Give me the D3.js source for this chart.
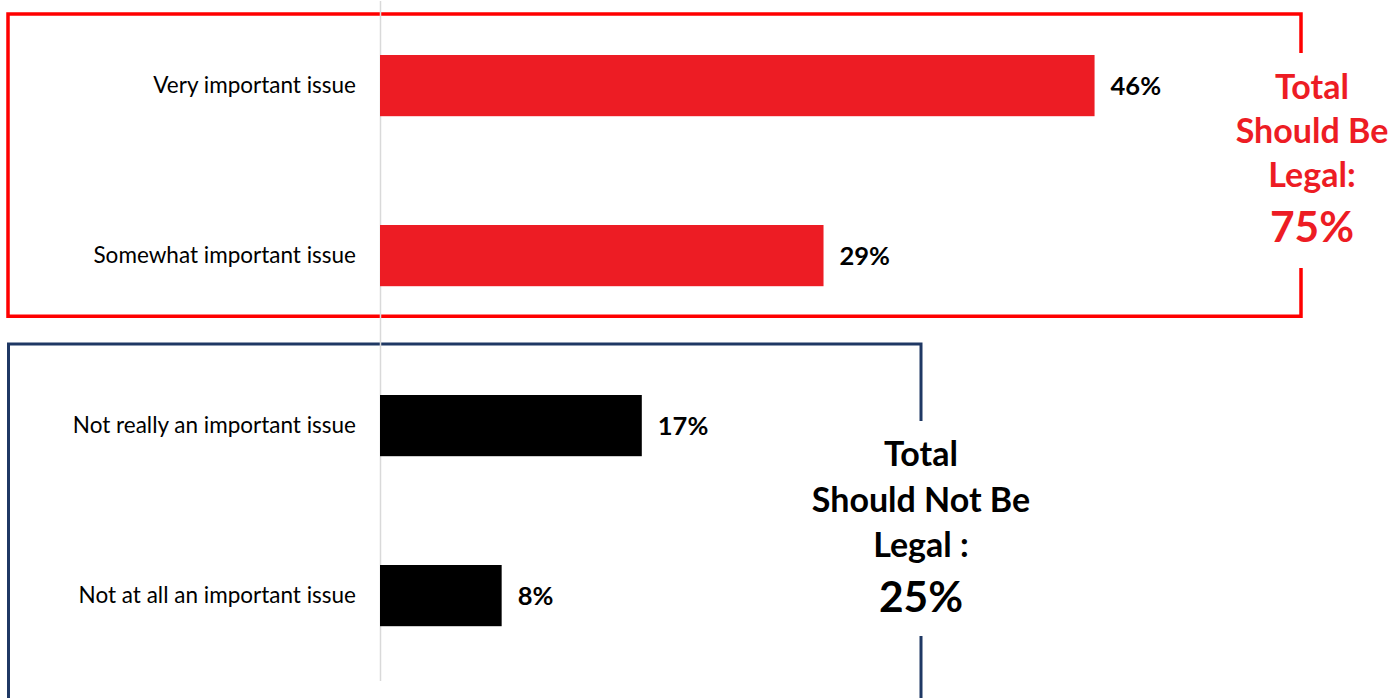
<!DOCTYPE html>
<html>
<head>
<meta charset="utf-8">
<script src="https://cdn.jsdelivr.net/npm/d3@7/dist/d3.min.js"></script>
<style>
  html, body { margin: 0; padding: 0; background: #fff; }
  svg { display: block; font-family: Lato, "Open Sans", sans-serif; }
</style>
</head>
<body>
<svg id="chart" width="1397" height="698"></svg>
<script>
// ---- data ----
const categories = [
  "Very important issue",
  "Somewhat important issue",
  "Not really an important issue",
  "Not at all an important issue"
];
const values = [46.4, 28.8, 17.0, 7.9];          // % (bar lengths)
const valueLabels = ["46%", "29%", "17%", "8%"];
const groups = ["legal", "legal", "notLegal", "notLegal"];
const groupTitles = {
  legal: ["Total", "Should Be", "Legal:"],
  notLegal: ["Total", "Should Not Be", "Legal :"]
};
const groupTotals = { legal: "75%", notLegal: "25%" };

// ---- styles ----
const barColor = { legal: "#ED1C24", notLegal: "#000000" };
const boxColor = { legal: "#FF0000", notLegal: "#1F3864" };
const titleColor = { legal: "#ED1C24", notLegal: "#000000" };

const svg = d3.select("#chart");
const W = 1397, H = 698;

const x = d3.scaleLinear().domain([0, 50]).range([380, 380 + 770]);
const y = d3.scaleBand().domain(categories).range([0.6, 680.6])
  .paddingInner(0.64).paddingOuter(0.32);

// ---- boxes (drawn first) ----
const boxes = [
  { g: "legal", left: 8, top: y(categories[0]) - 41, bottom: y(categories[1]) + y.bandwidth() + 30,
    right: 1301, gapTop: 53, gapBottom: 268, cx: 1312, sw: 3.5 },
  { g: "notLegal", left: 8.5, top: y(categories[2]) - 51, bottom: H + 10,
    right: 921, gapTop: 421, gapBottom: 636, cx: 921, sw: 3 }
];
boxes.forEach(b => {
  const p = d3.path();
  p.moveTo(b.right, b.gapTop);
  p.lineTo(b.right, b.top);
  p.lineTo(b.left, b.top);
  p.lineTo(b.left, b.bottom);
  p.lineTo(b.right, b.bottom);
  p.lineTo(b.right, b.gapBottom);
  svg.append("path").attr("d", p.toString())
    .attr("fill", "none").attr("stroke", boxColor[b.g])
    .attr("stroke-width", b.sw).attr("stroke-linejoin", "miter");
});

// ---- axis (vertical baseline + category labels) ----
const axis = svg.append("g").attr("transform", `translate(${x(0)},0)`)
  .call(d3.axisLeft(y).tickSize(0).tickSizeOuter(0).tickPadding(24));
axis.select(".domain").attr("stroke", "#D9D9D9").attr("stroke-width", 1.5);
axis.selectAll(".tick text")
  .attr("font-family", "Lato, sans-serif")
  .attr("font-size", 22.5).attr("fill", "#000");

// ---- bars ----
svg.append("g").selectAll("rect").data(values).join("rect")
  .attr("x", x(0))
  .attr("y", (d, i) => y(categories[i]))
  .attr("width", d => x(d) - x(0))
  .attr("height", y.bandwidth())
  .attr("fill", (d, i) => barColor[groups[i]]);

// ---- value labels ----
svg.append("g").selectAll("text").data(values).join("text")
  .attr("x", d => x(d) + 16)
  .attr("y", (d, i) => y(categories[i]) + y.bandwidth() / 2)
  .attr("dy", "0.36em")
  .attr("font-size", 25.5).attr("font-weight", "bold").attr("fill", "#000")
  .text((d, i) => valueLabels[i]);

// ---- group totals ----
const titleBaselines = { legal: [99, 143, 187], notLegal: [466, 512, 557] };
const totalBaselines = { legal: 242, notLegal: 612 };
boxes.forEach(b => {
  const gt = svg.append("g").attr("text-anchor", "middle").attr("fill", titleColor[b.g])
    .attr("font-weight", "bold");
  gt.selectAll("text.t").data(groupTitles[b.g]).join("text").attr("class", "t")
    .attr("x", b.cx).attr("y", (d, i) => titleBaselines[b.g][i])
    .attr("font-size", 34).text(d => d);
  gt.append("text").attr("x", b.cx).attr("y", totalBaselines[b.g])
    .attr("font-size", 42.5).text(groupTotals[b.g]);
});
</script>
</body>
</html>
